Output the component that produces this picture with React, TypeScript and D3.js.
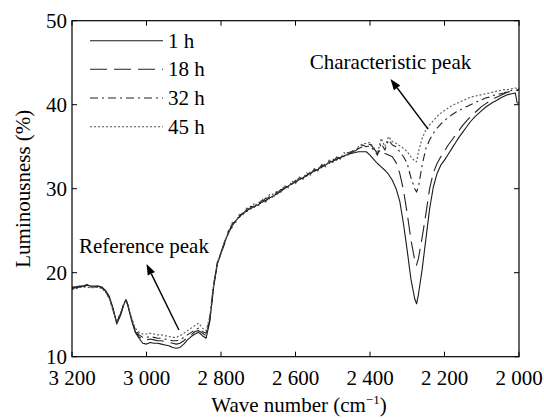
import React from "react";
import * as d3 from "d3";

// Wave numbers (cm^-1)
const waveNumbers = [
  3200, 3190, 3180, 3170, 3160, 3150, 3140, 3130, 3120, 3110, 3100, 3090, 3080, 3070, 3060, 3055,
  3050, 3040, 3030, 3020, 3010, 3000, 2990, 2980, 2970, 2960, 2950, 2940, 2930, 2920, 2910, 2900,
  2890, 2880, 2870, 2860, 2850, 2840, 2830, 2820, 2810, 2800,
  2790, 2780, 2770, 2760, 2750, 2740, 2730, 2720, 2710, 2700, 2690, 2680, 2670, 2660, 2650, 2640,
  2630, 2620, 2610, 2600, 2590, 2580, 2570, 2560, 2550, 2540, 2530, 2520, 2510, 2500, 2490, 2480,
  2470, 2460, 2450, 2440, 2430, 2420, 2410,
  2400, 2390, 2380, 2370, 2360, 2350, 2340, 2330, 2320, 2310, 2300, 2290, 2280, 2275,
  2270, 2260, 2250, 2240, 2230, 2220, 2210, 2200, 2190, 2180, 2170, 2160, 2150, 2140, 2130, 2120,
  2110, 2100, 2090, 2080, 2070, 2060, 2050, 2040, 2030, 2020, 2010, 2005, 2000,
];

const lum1h = [
  18.3, 18.3, 18.4, 18.4, 18.6, 18.4, 18.4, 18.4, 18.3, 17.9, 17.2, 15.8, 13.9, 14.9, 16.3, 16.8,
  16.1, 14.3, 12.9, 12.2, 11.6, 11.5, 11.7, 11.6, 11.6, 11.5, 11.4, 11.3, 11.1, 11.0, 11.1, 11.5,
  12.0, 12.4, 12.7, 12.9, 12.5, 12.2, 14.2, 18.2, 21.0, 22.3,
  23.6, 24.8, 25.6, 26.2, 26.7, 27.1, 27.4, 27.7, 27.9, 28.1, 28.4, 28.6, 28.9, 29.1, 29.4, 29.7,
  30.0, 30.3, 30.6, 30.8, 31.1, 31.3, 31.6, 31.8, 32.1, 32.3, 32.6, 32.8, 33.1, 33.3, 33.5, 33.7,
  33.9, 34.1, 34.2, 34.3, 34.4, 34.4, 34.4,
  34.0, 33.5, 33.0, 32.6, 32.2, 31.7, 31.0, 30.0, 28.5, 25.8, 22.6, 19.2, 16.9, 16.3,
  17.4, 20.4, 24.0, 27.6, 30.2, 31.8, 32.8, 33.4, 34.1, 34.8, 35.5, 36.2, 36.8, 37.4, 38.0, 38.5,
  38.9, 39.3, 39.7, 40.0, 40.3, 40.5, 40.8, 41.0, 41.2, 41.3, 41.4, 40.2, 40.2,
];

const lum18h = [
  18.2, 18.3, 18.3, 18.4, 18.5, 18.4, 18.3, 18.4, 18.2, 17.8, 17.1, 15.7, 14.0, 15.0, 16.4, 16.8,
  16.2, 14.4, 13.0, 12.4, 12.0, 12.0, 12.1, 12.0, 11.9, 11.9, 11.8, 11.7, 11.6, 11.5, 11.6, 11.9,
  12.3, 12.6, 13.0, 13.1, 12.8, 12.5, 14.4, 18.4, 21.1, 22.4,
  23.8, 24.7, 25.8, 26.1, 26.9, 27.0, 27.6, 27.6, 28.1, 28.0, 28.6, 28.5, 29.1, 29.0, 29.6, 29.6,
  30.2, 30.2, 30.8, 30.7, 31.3, 31.2, 31.8, 31.7, 32.3, 32.2, 32.8, 32.7, 33.3, 33.2, 33.7, 33.6,
  34.1, 34.0, 34.4, 34.5, 34.8, 35.0, 35.2,
  35.3, 34.8, 34.2, 34.7, 34.2, 34.0, 33.8, 33.1, 31.8, 29.8, 27.0, 23.9, 21.5, 20.9,
  21.7, 24.2, 27.0, 30.0, 31.9, 33.0, 33.8, 34.5, 35.2, 35.8, 36.4, 37.0, 37.6, 38.1, 38.6, 39.0,
  39.4, 39.8, 40.1, 40.4, 40.7, 40.9, 41.1, 41.3, 41.5, 41.6, 41.7, 41.7, 41.8,
];

const lum32h = [
  18.1, 18.2, 18.3, 18.3, 18.4, 18.3, 18.3, 18.3, 18.2, 17.8, 17.0, 15.6, 14.1, 15.1, 16.4, 16.7,
  16.1, 14.5, 13.2, 12.6, 12.3, 12.3, 12.4, 12.3, 12.2, 12.2, 12.1, 12.0, 11.9, 11.9, 12.0, 12.3,
  12.6, 12.9, 13.2, 13.4, 13.0, 12.8, 14.6, 18.5, 21.2, 22.3,
  23.5, 25.0, 25.4, 26.4, 26.6, 27.3, 27.3, 27.9, 27.8, 28.4, 28.3, 28.9, 28.8, 29.4, 29.3, 29.9,
  29.9, 30.5, 30.5, 31.0, 31.0, 31.5, 31.5, 32.0, 32.0, 32.5, 32.5, 33.0, 33.0, 33.5, 33.4, 33.9,
  33.8, 34.3, 34.2, 34.7, 34.8, 35.2, 35.0,
  35.1, 34.6, 34.0, 35.4, 34.6, 35.8, 35.2, 35.0, 34.4, 33.8, 33.0, 31.3, 30.0, 29.6,
  30.2, 32.8, 34.8, 35.8, 36.6, 37.2, 37.7, 38.1, 38.5, 38.8, 39.1, 39.3, 39.6, 39.8, 40.0, 40.2,
  40.4, 40.6, 40.8, 40.9, 41.1, 41.2, 41.3, 41.4, 41.6, 41.7, 41.8, 41.7, 41.9,
];

const lum45h = [
  18.0, 18.1, 18.2, 18.3, 18.3, 18.2, 18.2, 18.3, 18.1, 17.7, 16.9, 15.5, 14.2, 15.2, 16.5, 16.7,
  16.0, 14.6, 13.4, 12.9, 12.7, 12.7, 12.8, 12.7, 12.6, 12.6, 12.5, 12.4, 12.3, 12.3, 12.5, 12.8,
  13.1, 13.4, 13.7, 14.0, 13.4, 13.1, 14.8, 18.6, 21.2, 22.2,
  23.9, 24.6, 26.0, 26.0, 27.0, 26.9, 27.8, 27.5, 28.3, 27.9, 28.8, 28.4, 29.3, 28.9, 29.8, 29.5,
  30.4, 30.1, 30.9, 30.6, 31.4, 31.1, 31.9, 31.6, 32.4, 32.1, 32.9, 32.6, 33.4, 33.1, 33.8, 33.5,
  34.3, 34.0, 34.6, 34.4, 35.1, 35.3, 35.4,
  35.5, 34.9, 34.2, 36.0, 35.0, 36.2, 35.6, 35.4, 35.1, 34.8, 34.4, 33.8, 33.3, 33.2,
  34.4, 36.0, 37.0, 37.6, 38.1, 38.6, 39.0, 39.3, 39.6, 39.9, 40.1, 40.3, 40.5, 40.7, 40.9, 41.0,
  41.1, 41.2, 41.3, 41.4, 41.5, 41.6, 41.7, 41.8, 41.8, 41.9, 42.0, 41.9, 42.0,
];

const seriesNames = ["1 h", "18 h", "32 h", "45 h"];
const seriesValues = [lum1h, lum18h, lum32h, lum45h];
const seriesDash = ["none", "17,7", "8,4,2,4", "2,2"];
const seriesColor = ["#1a1a1a", "#222", "#222", "#555"];

const xTicks = [3200, 3000, 2800, 2600, 2400, 2200, 2000];
const xTickLabels = ["3 200", "3 000", "2 800", "2 600", "2 400", "2 200", "2 000"];
const yTicks = [10, 20, 30, 40, 50];
const yTickLabels = ["10", "20", "30", "40", "50"];

const FONT = "'Liberation Serif', 'Times New Roman', serif";

export default function App() {
  const left = 72, right = 519, top = 20.7, bottom = 356.7;
  const x = d3.scaleLinear().domain([3200, 2000]).range([left, right]);
  const y = d3.scaleLinear().domain([10, 50]).range([bottom, top]);
  const tick = 5;

  const line = (vals: number[]) =>
    d3
      .line<number>()
      .defined((d, i) => d !== undefined && waveNumbers[i] !== undefined)
      .x((_, i) => x(waveNumbers[i]))
      .y((d) => y(d))(vals) || "";

  const arrow = (x1: number, y1: number, x2: number, y2: number) => {
    const dx = x2 - x1, dy = y2 - y1;
    const len = Math.hypot(dx, dy);
    const ux = dx / len, uy = dy / len;
    const hl = 11, hw = 4;
    const bx = x2 - ux * hl, by = y2 - uy * hl;
    const p = `${x2},${y2} ${bx - uy * hw},${by + ux * hw} ${bx + uy * hw},${by - ux * hw}`;
    return (
      <g>
        <line x1={x1} y1={y1} x2={bx} y2={by} stroke="#000" strokeWidth={1.4} />
        <polygon points={p} fill="#000" />
      </g>
    );
  };

  const legendY = [40.7, 69.2, 98, 126.8];

  return (
    <svg
      width={544}
      height={418}
      style={{ position: "absolute", left: 0, top: 0, background: "#fff" }}
      fontFamily={FONT}
    >
      <rect x={0} y={0} width={544} height={418} fill="#fff" />
      {/* data */}
      <g fill="none" strokeLinejoin="round">
        {seriesValues.map((vals, i) => (
          <path
            key={i}
            d={line(vals)}
            stroke={seriesColor[i]}
            strokeWidth={1.1}
            strokeDasharray={seriesDash[i]}
          />
        ))}
      </g>
      {/* frame */}
      <rect x={left} y={top} width={right - left} height={bottom - top} fill="none" stroke="#000" strokeWidth={1.2} />
      {/* ticks */}
      {xTicks.map((t, i) => (
        <g key={"xt" + i}>
          <line x1={x(t)} x2={x(t)} y1={bottom} y2={bottom - tick} stroke="#000" />
          <line x1={x(t)} x2={x(t)} y1={top} y2={top + tick} stroke="#000" />
          <text x={x(t)} y={385} fontSize={21} textAnchor="middle" fill="#000">
            {xTickLabels[i]}
          </text>
        </g>
      ))}
      {yTicks.map((t, i) => (
        <g key={"yt" + i}>
          <line x1={left} x2={left + tick} y1={y(t)} y2={y(t)} stroke="#000" />
          <line x1={right} x2={right - tick} y1={y(t)} y2={y(t)} stroke="#000" />
          <text x={67} y={y(t) + 7} fontSize={21} textAnchor="end" fill="#000">
            {yTickLabels[i]}
          </text>
        </g>
      ))}
      {/* axis titles */}
      <text x={299} y={411.5} fontSize={21} textAnchor="middle" fill="#000">
        Wave number (cm
        <tspan fontSize={13} dy={-8}>−1</tspan>
        <tspan dy={8}>)</tspan>
      </text>
      <text
        transform={`translate(30, ${(top + bottom) / 2}) rotate(-90)`}
        fontSize={21}
        textAnchor="middle"
        fill="#000"
      >
        Luminousness (%)
      </text>
      {/* legend */}
      {seriesNames.map((n, i) => (
        <g key={"lg" + i}>
          <line
            x1={90}
            x2={163}
            y1={legendY[i]}
            y2={legendY[i]}
            stroke={seriesColor[i]}
            strokeWidth={1.1}
            strokeDasharray={seriesDash[i]}
          />
          <text x={168} y={legendY[i] + 7} fontSize={21} fill="#000">
            {n}
          </text>
        </g>
      ))}
      {/* annotations */}
      <text x={x(2345)} y={y(44.25)} fontSize={21} textAnchor="middle" fill="#000">
        Characteristic peak
      </text>
      {arrow(x(2244), y(37.1), x(2345), y(43.06))}
      <text x={x(3007)} y={y(22.3)} fontSize={21} textAnchor="middle" fill="#000">
        Reference peak
      </text>
      {arrow(x(2913), y(13.18), x(3000), y(21.04))}
    </svg>
  );
}
